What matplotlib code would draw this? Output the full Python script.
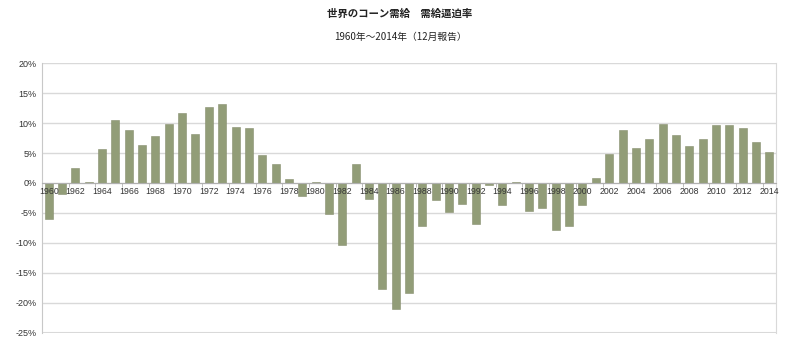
import matplotlib
matplotlib.use("Agg")
import matplotlib.pyplot as plt
import numpy as np

plt.rcParams['font.family'] = ['Liberation Sans Narrow', 'Liberation Sans', 'Noto Sans CJK JP', 'DejaVu Sans']

years = list(range(1960, 2015))
ratio = [-6.0, -1.9, 2.5, 0.1, 5.7, 10.5, 8.9, 6.4, 7.9, 9.8,
         11.6, 8.2, 12.7, 13.2, 9.3, 9.1, 4.7, 3.2, 0.7, -2.1,
         0.1, -5.2, -10.3, 3.1, -2.6, -17.6, -21.0, -18.4, -7.2, -2.9,
         -4.9, -3.5, -6.8, -0.4, -3.6, 0.1, -4.7, -4.2, -7.9, -7.1,
         -3.7, 0.8, 4.8, 8.9, 5.9, 7.4, 9.9, 8.0, 6.2, 7.3,
         9.7, 9.7, 9.1, 6.9, 5.2]
yticks = [20, 15, 10, 5, 0, -5, -10, -15, -20, -25]

title = "世界のコーン需給　需給逼迫率"
subtitle = "1960年～2014年（12月報告）"

fig = plt.figure(figsize=(8, 3.51), dpi=100)
ax = fig.add_axes([0.0525, 0.0513, 0.9175, 0.7692])

x = np.arange(len(years))
ax.bar(x, ratio, width=0.6, color='#929d78', edgecolor='#878f6e', linewidth=0.4, zorder=2)

# gridlines drawn by hand so the axis (and its labels) can sit above the bars
for v in yticks:
    ax.axhline(v, color='#d9d9d9', linewidth=1.5 if v == -25 else 1, zorder=0.5)
ax.set_axisbelow(False)

# x axis sits on the zero line (set before ticks: set_position resets them)
ax.spines['bottom'].set_position(('data', 0))
ax.spines['bottom'].set_color('#b0b0b0')
ax.spines['left'].set_color('#c8c8c8')
ax.spines['right'].set_color('#d9d9d9')
ax.spines['top'].set_visible(False)

ax.set_xlim(-0.5, len(years) - 0.5)
ax.set_ylim(-25, 20)
ax.set_yticks(yticks)
ax.set_yticklabels([f"{v}%" for v in yticks], fontsize=6.5, color='#333333')
ax.tick_params(axis='y', length=0, pad=4)

# category labels every other year
ax.set_xticks(x[::2])
ax.set_xticklabels([str(y) for y in years[::2]], fontsize=6.3, color='#333333')
ax.set_xticks(x[1::2] + 0.5, minor=True)
ax.tick_params(axis='x', which='major', length=0, pad=3)
ax.tick_params(axis='x', which='minor', length=3, color='#b0b0b0', direction='out')

fig.text(0.5, 0.96, title, ha='center', va='center', fontsize=7.5, fontweight='bold',
         family=['Noto Sans CJK JP', 'DejaVu Sans'], color='#222222')
fig.text(0.5, 0.895, subtitle, ha='center', va='center', fontsize=7,
         family=['Noto Sans CJK JP', 'DejaVu Sans'], color='#222222')

fig.savefig("out.png", dpi=100)
